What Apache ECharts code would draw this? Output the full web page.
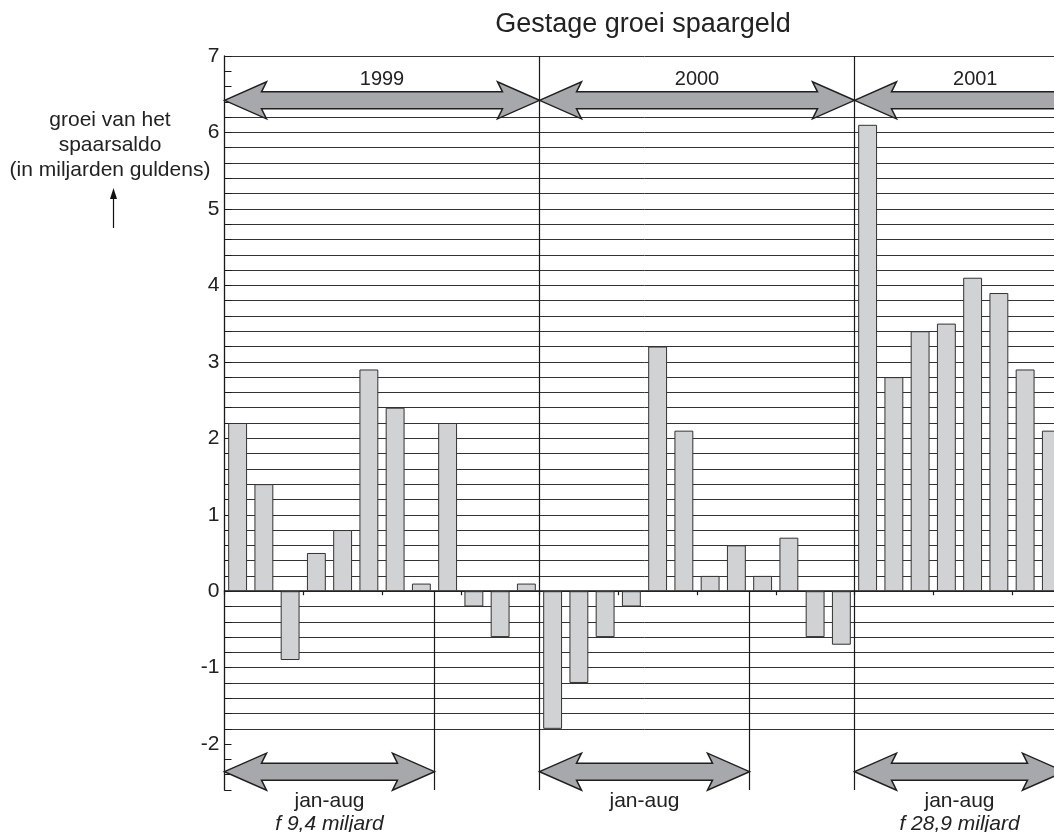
<!DOCTYPE html>
<html><head><meta charset="utf-8">
<script src="https://cdn.jsdelivr.net/npm/echarts@6/dist/echarts.min.js"></script>
<style>html,body{margin:0;padding:0;background:#fff;overflow:hidden;width:1054px;height:832px}#c{width:1080px;height:832px}</style>
</head><body><div id="c"></div>
<script>
// ---------- data ----------
const months = ['jan','feb','mrt','apr','mei','jun','jul','aug','sep','okt','nov','dec'];
const years = ['1999','2000','2001'];
const values1999 = [2.2, 1.4, -0.9, 0.5, 0.8, 2.9, 2.4, 0.1, 2.2, -0.2, -0.6, 0.1];
const values2000 = [-1.8, -1.2, -0.6, -0.2, 3.2, 2.1, 0.2, 0.6, 0.2, 0.7, -0.6, -0.7];
const values2001 = [6.1, 2.8, 3.4, 3.5, 4.1, 3.9, 2.9, 2.1];
const yTickLabels = ['-2','-1','0','1','2','3','4','5','6','7'];
const titleText = 'Gestage groei spaargeld';
const yNameLines = ['groei van het', 'spaarsaldo', '(in miljarden guldens)'];
const periodLabel = 'jan-aug';
const totalLabels = ['f 9,4 miljard', '', 'f 28,9 miljard'];
// spans in category-boundary units
const yearSpans = [[0, 12], [12, 24], [24, 36]];
const yearLabelPos = [6, 18, 28.6];
const periodSpans = [[0, 8], [12, 20], [24, 32]];
const yearLines = [12, 24];
const periodLines = [8, 20];

const categories = [];
const values = [];
[values1999, values2000, values2001].forEach((arr, yi) => {
  arr.forEach((v, mi) => { categories.push(months[mi] + ' ' + years[yi]); values.push(v); });
});

const Y_MIN = -2.6, Y_MAX = 7, Y_STEP = 0.2;
const gridColors = [];
for (let k = 0; k <= Math.round((Y_MAX - Y_MIN) / Y_STEP); k++) {
  const v = Math.round((Y_MIN + k * Y_STEP) * 10) / 10;
  gridColors.push(((v >= -1.8 && v <= 6.2) || v === 7) ? '#333' : 'rgba(0,0,0,0)');
}

const FONT = "'Liberation Sans', Arial, Helvetica, sans-serif";
const BAND = 26.25;

const chart = echarts.init(document.getElementById('c'), null, {renderer: 'canvas'});
chart.setOption({
  animation: false,
  backgroundColor: '#fff',
  grid: {left: 224.5, top: 56, height: 734, width: BAND * categories.length, containLabel: false},
  xAxis: {
    type: 'category', data: categories,
    axisLine: {onZero: true, lineStyle: {color: '#1a1a1a', width: 1.5}},
    axisTick: {show: true, alignWithLabel: false, length: 4, lineStyle: {color: '#1a1a1a', width: 1.2}},
    axisLabel: {show: false},
    splitLine: {show: false}
  },
  yAxis: {
    type: 'value', min: Y_MIN, max: Y_MAX, interval: Y_STEP,
    axisLine: {show: true, lineStyle: {color: '#1a1a1a', width: 1.3}},
    axisTick: {show: true, inside: true, length: 7, lineStyle: {color: '#1a1a1a', width: 1}},
    axisLabel: {
      margin: 5, color: '#222', fontSize: 21, fontFamily: FONT,
      formatter: function (v) {
        const r = Math.round(v);
        if (Math.abs(v - r) > 1e-6) return '';
        const s = String(r);
        return yTickLabels.indexOf(s) >= 0 ? s : '';
      }
    },
    splitLine: {show: true, showMinLine: true, showMaxLine: true, lineStyle: {color: gridColors, width: 1}}
  },
  series: [{
    type: 'bar', data: values, barWidth: '72%', z: 3,
    itemStyle: {color: '#d1d2d4', borderColor: '#333', borderWidth: 1}
  }]
});

// ---------- overlay decorations ----------
const c0 = chart.convertToPixel({xAxisIndex: 0}, 0);
const c1 = chart.convertToPixel({xAxisIndex: 0}, 1);
const band = c1 - c0;
const bx = k => c0 - band / 2 + k * band;
const py = v => chart.convertToPixel({yAxisIndex: 0}, v);

function txt(text, x, y, size, opts) {
  opts = opts || {};
  return {
    type: 'text', z: 60, silent: true,
    style: {
      text: text, x: x, y: y,
      font: (opts.italic ? 'italic ' : '') + size + 'px ' + FONT,
      fill: '#222',
      align: opts.align || 'center', textAlign: opts.align || 'center',
      verticalAlign: 'middle', textVerticalAlign: 'middle'
    }
  };
}
function vline(x, y1, y2) {
  return {type: 'line', z: 50, silent: true, shape: {x1: x, y1: y1, x2: x, y2: y2},
    style: {stroke: '#1a1a1a', lineWidth: 1.2}};
}
function arrow(x1, x2, y) {
  const L = 42, N = 37, H = 18.5, h = 8.5;
  return {
    type: 'polygon', z: 55, silent: true,
    shape: {points: [
      [x1, y], [x1 + L, y - H], [x1 + N, y - h], [x2 - N, y - h], [x2 - L, y - H],
      [x2, y], [x2 - L, y + H], [x2 - N, y + h], [x1 + N, y + h], [x1 + L, y + H]
    ]},
    style: {fill: '#a7a8ab', stroke: '#1f1f1f', lineWidth: 1.5, lineJoin: 'miter'}
  };
}

const topY = py(Y_MAX), botY = py(Y_MIN), zeroY = py(0);
const topArrowY = py(6.42), botArrowY = py(-2.36);
const els = [];
yearLines.forEach(k => els.push(vline(bx(k), topY, botY)));
periodLines.forEach(k => els.push(vline(bx(k), zeroY, botY)));
yearSpans.forEach(s => els.push(arrow(bx(s[0]), bx(s[1]), topArrowY)));
periodSpans.forEach(s => els.push(arrow(bx(s[0]), bx(s[1]), botArrowY)));
years.forEach((y, i) => els.push(txt(y, bx(yearLabelPos[i]), 79, 20)));
periodSpans.forEach((s, i) => {
  const cx = (bx(s[0]) + bx(s[1])) / 2;
  els.push(txt(periodLabel, cx, 801, 21));
  if (totalLabels[i]) els.push(txt(totalLabels[i], cx, 824, 21, {italic: true}));
});
// title centred over the visible plot
els.push(txt(titleText, 643, 25, 27));
// y axis name
const yNameY = [120, 145.5, 170];
yNameLines.forEach((t, i) => els.push(txt(t, 110, yNameY[i], 21)));
els.push({type: 'line', z: 50, silent: true, shape: {x1: 113.5, y1: 228, x2: 113.5, y2: 195},
  style: {stroke: '#111', lineWidth: 1.2}});
els.push({type: 'polygon', z: 50, silent: true,
  shape: {points: [[113.5, 188], [117, 199], [110, 199]]}, style: {fill: '#111'}});

chart.setOption({graphic: {elements: els}});
</script>
</body></html>
